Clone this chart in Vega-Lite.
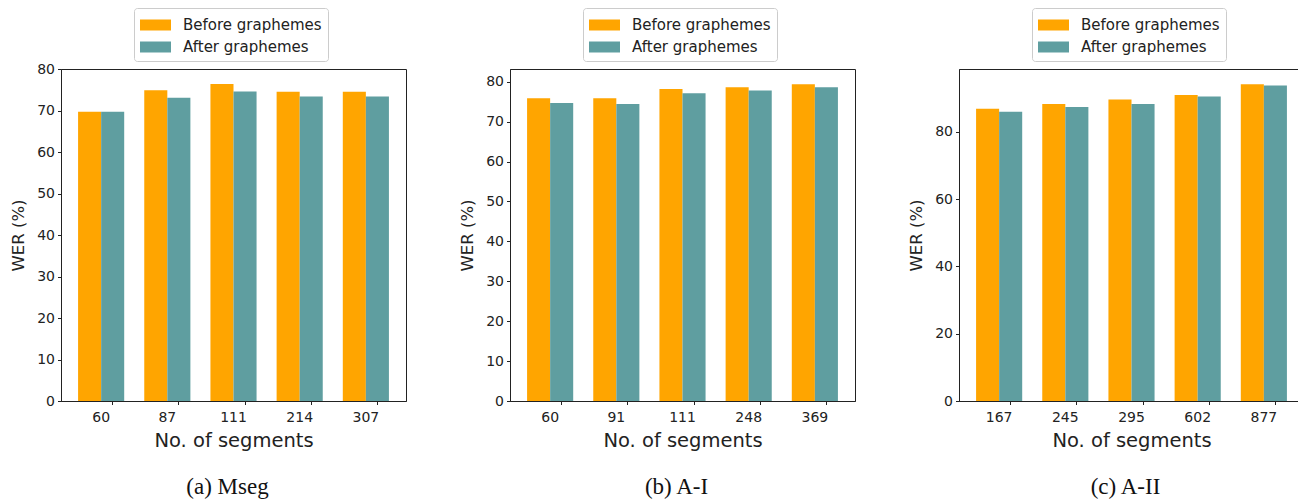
{
  "$schema": "https://vega.github.io/schema/vega-lite/v6.json",
  "background": "white",
  "padding": {"left": 10, "top": 7, "right": 0, "bottom": 0},
  "spacing": 52,
  "config": {
    "font": "DejaVu Sans",
    "view": {"stroke": "#222", "strokeWidth": 1},
    "axis": {"domainColor": "#222", "tickColor": "#222", "labelColor": "#222", "titleColor": "#222", "labelFont": "DejaVu Sans", "titleFont": "DejaVu Sans", "labelFontSize": 14, "tickSize": 3.5, "grid": false, "titleFontWeight": "normal", "labelPadding": 3},
    "axisX": {"titleFontSize": 19.5, "titlePadding": 7, "labelAngle": 0, "bandPosition": 0.75, "labelPadding": 6},
    "axisY": {"titleFontSize": 16.5, "titlePadding": 10},
    "legend": {"labelFont": "DejaVu Sans", "labelFontSize": 15, "labelColor": "#222", "symbolType": "M-1,-0.5H1.82V0.5H-1Z", "symbolSize": 484, "symbolStrokeWidth": 0, "symbolOpacity": 1, "strokeColor": "#cccccc", "padding": 6, "cornerRadius": 3, "fillColor": "white", "rowPadding": 3, "labelOffset": 21, "orient": "none", "legendX": 73, "legendY": -61, "direction": "vertical"},
    "title": {"font": "Liberation Serif", "fontSize": 23, "fontWeight": "normal", "orient": "bottom", "color": "#111", "frame": "group", "anchor": "middle", "dx": -6, "offset": 26}
  },
  "datasets": {
    "d": [
      {"panel": "a", "seg": 60, "series": "Before graphemes", "wer": 69.7},
      {"panel": "a", "seg": 60, "series": "After graphemes", "wer": 69.7},
      {"panel": "a", "seg": 87, "series": "Before graphemes", "wer": 74.9},
      {"panel": "a", "seg": 87, "series": "After graphemes", "wer": 73.1},
      {"panel": "a", "seg": 111, "series": "Before graphemes", "wer": 76.4},
      {"panel": "a", "seg": 111, "series": "After graphemes", "wer": 74.6},
      {"panel": "a", "seg": 214, "series": "Before graphemes", "wer": 74.5},
      {"panel": "a", "seg": 214, "series": "After graphemes", "wer": 73.4},
      {"panel": "a", "seg": 307, "series": "Before graphemes", "wer": 74.5},
      {"panel": "a", "seg": 307, "series": "After graphemes", "wer": 73.4},
      {"panel": "b", "seg": 60, "series": "Before graphemes", "wer": 75.9},
      {"panel": "b", "seg": 60, "series": "After graphemes", "wer": 74.7},
      {"panel": "b", "seg": 91, "series": "Before graphemes", "wer": 75.9},
      {"panel": "b", "seg": 91, "series": "After graphemes", "wer": 74.4},
      {"panel": "b", "seg": 111, "series": "Before graphemes", "wer": 78.2},
      {"panel": "b", "seg": 111, "series": "After graphemes", "wer": 77.1},
      {"panel": "b", "seg": 248, "series": "Before graphemes", "wer": 78.6},
      {"panel": "b", "seg": 248, "series": "After graphemes", "wer": 77.8},
      {"panel": "b", "seg": 369, "series": "Before graphemes", "wer": 79.4},
      {"panel": "b", "seg": 369, "series": "After graphemes", "wer": 78.6},
      {"panel": "c", "seg": 167, "series": "Before graphemes", "wer": 86.9},
      {"panel": "c", "seg": 167, "series": "After graphemes", "wer": 86.0},
      {"panel": "c", "seg": 245, "series": "Before graphemes", "wer": 88.3},
      {"panel": "c", "seg": 245, "series": "After graphemes", "wer": 87.4},
      {"panel": "c", "seg": 295, "series": "Before graphemes", "wer": 89.6},
      {"panel": "c", "seg": 295, "series": "After graphemes", "wer": 88.3},
      {"panel": "c", "seg": 602, "series": "Before graphemes", "wer": 91.0},
      {"panel": "c", "seg": 602, "series": "After graphemes", "wer": 90.5},
      {"panel": "c", "seg": 877, "series": "Before graphemes", "wer": 94.2},
      {"panel": "c", "seg": 877, "series": "After graphemes", "wer": 93.8}
    ]
  },
  "hconcat": [
    {
      "width": 345, "height": 332,
      "data": {"name": "d"},
      "transform": [{"filter": "datum.panel == 'a'"}],
      "title": {"text": "(a) Mseg"},
      "mark": {"type": "bar"},
      "encoding": {
        "x": {"field": "seg", "type": "ordinal", "scale": {"paddingInner": 0.303, "paddingOuter": 0.258}, "axis": {"title": "No. of segments"}},
        "xOffset": {"field": "series", "type": "nominal", "sort": ["Before graphemes", "After graphemes"]},
        "y": {"field": "wer", "type": "quantitative", "scale": {"domain": [0, 80], "nice": false}, "axis": {"title": "WER (%)", "values": [0, 10, 20, 30, 40, 50, 60, 70, 80]}},
        "color": {"field": "series", "type": "nominal", "scale": {"domain": ["Before graphemes", "After graphemes"], "range": ["#FFA500", "#5F9EA0"]}, "legend": {"title": null}}
      }
    },
    {
      "width": 345, "height": 332,
      "data": {"name": "d"},
      "transform": [{"filter": "datum.panel == 'b'"}],
      "title": {"text": "(b) A-I"},
      "mark": {"type": "bar"},
      "encoding": {
        "x": {"field": "seg", "type": "ordinal", "scale": {"paddingInner": 0.303, "paddingOuter": 0.258}, "axis": {"title": "No. of segments"}},
        "xOffset": {"field": "series", "type": "nominal", "sort": ["Before graphemes", "After graphemes"]},
        "y": {"field": "wer", "type": "quantitative", "scale": {"domain": [0, 83.2], "nice": false}, "axis": {"title": "WER (%)", "values": [0, 10, 20, 30, 40, 50, 60, 70, 80]}},
        "color": {"field": "series", "type": "nominal", "scale": {"domain": ["Before graphemes", "After graphemes"], "range": ["#FFA500", "#5F9EA0"]}, "legend": {"title": null}}
      }
    },
    {
      "width": 345, "height": 332,
      "data": {"name": "d"},
      "transform": [{"filter": "datum.panel == 'c'"}],
      "title": {"text": "(c) A-II"},
      "mark": {"type": "bar"},
      "encoding": {
        "x": {"field": "seg", "type": "ordinal", "scale": {"paddingInner": 0.303, "paddingOuter": 0.258}, "axis": {"title": "No. of segments"}},
        "xOffset": {"field": "series", "type": "nominal", "sort": ["Before graphemes", "After graphemes"]},
        "y": {"field": "wer", "type": "quantitative", "scale": {"domain": [0, 98.7], "nice": false}, "axis": {"title": "WER (%)", "values": [0, 20, 40, 60, 80]}},
        "color": {"field": "series", "type": "nominal", "scale": {"domain": ["Before graphemes", "After graphemes"], "range": ["#FFA500", "#5F9EA0"]}, "legend": {"title": null}}
      }
    }
  ],
  "resolve": {"scale": {"x": "independent", "y": "independent", "color": "independent"}, "legend": {"color": "independent"}}
}
